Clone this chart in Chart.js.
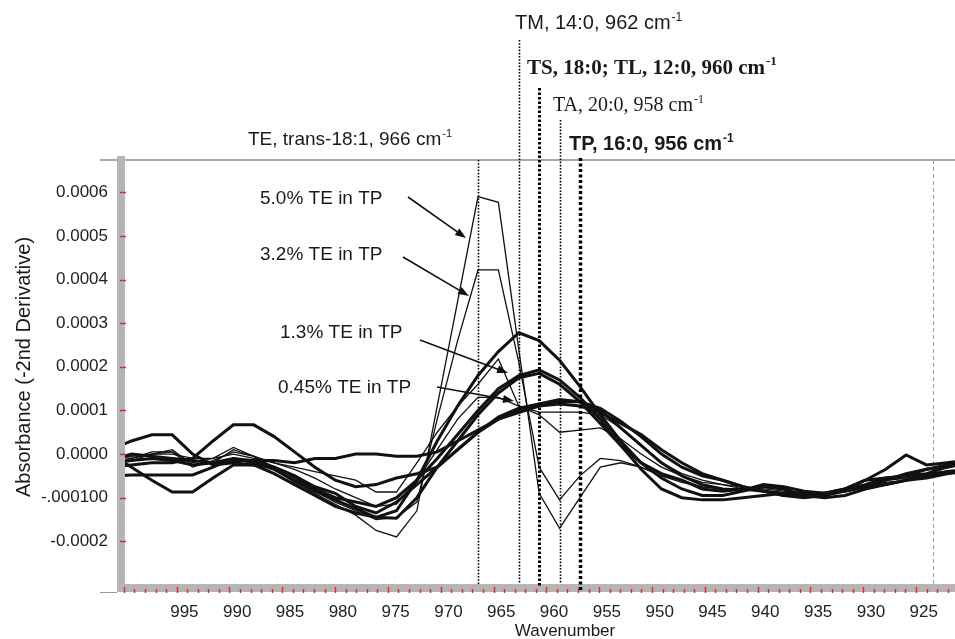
<!DOCTYPE html>
<html>
<head>
<meta charset="utf-8">
<script src="https://cdn.jsdelivr.net/npm/chart.js@4.4.0/dist/chart.umd.min.js"></script>
<style>
  html, body { margin: 0; padding: 0; background: #fff; }
  #wrap { width: 955px; height: 639px; position: relative; }
</style>
</head>
<body>
<div id="wrap"><canvas id="myChart"></canvas></div>
<script>
// sampled wavenumbers (cm-1), one spectrum point every ~1.93 cm-1
var wavenumbers = [1001.94, 1000.01, 998.08, 996.15, 994.22, 992.29, 990.36, 988.43, 986.5, 984.57,
  982.64, 980.71, 978.78, 976.85, 974.92, 972.99, 971.06, 969.13, 967.2, 965.27,
  963.34, 961.41, 959.48, 957.55, 955.62, 953.69, 951.76, 949.83, 947.9, 945.97,
  944.04, 942.11, 940.18, 938.25, 936.32, 934.39, 932.46, 930.53, 928.6, 926.67,
  924.74, 922.81, 920.88];

// mixtures of TE in TP (thin lines)
var te50 = [-0.1e-4, -0.15e-4, 0, 0.1e-4, -0.25e-4, -0.2e-4, 0.1e-4, -0.05e-4, -0.35e-4, -0.65e-4,
  -0.9e-4, -1.15e-4, -1.4e-4, -1.75e-4, -1.9e-4, -1.3e-4, 1.1e-4, 3.5e-4, 5.9e-4, 5.77e-4,
  2.4e-4, -0.9e-4, -1.7e-4, -1.0e-4, -0.3e-4, -0.2e-4, -0.3e-4, -0.5e-4, -0.65e-4, -0.75e-4,
  -0.8e-4, -0.8e-4, -0.85e-4, -0.9e-4, -0.9e-4, -0.95e-4, -0.85e-4, -0.75e-4, -0.65e-4, -0.6e-4,
  -0.5e-4, -0.45e-4, -0.4e-4];
var te32 = [-0.05e-4, -0.1e-4, 0.05e-4, 0.05e-4, -0.2e-4, -0.1e-4, 0.15e-4, -0.05e-4, -0.3e-4, -0.55e-4,
  -0.85e-4, -1.1e-4, -1.3e-4, -1.5e-4, -1.45e-4, -1.1e-4, 0.8e-4, 2.6e-4, 4.22e-4, 4.22e-4,
  2.1e-4, -0.3e-4, -1.05e-4, -0.5e-4, -0.1e-4, -0.15e-4, -0.3e-4, -0.5e-4, -0.6e-4, -0.75e-4,
  -0.8e-4, -0.8e-4, -0.85e-4, -0.9e-4, -0.85e-4, -0.9e-4, -0.8e-4, -0.7e-4, -0.6e-4, -0.55e-4,
  -0.45e-4, -0.4e-4, -0.35e-4];
var te13 = [-0.2e-4, -0.1e-4, 0, 0.05e-4, -0.3e-4, -0.15e-4, 0.05e-4, -0.05e-4, -0.2e-4, -0.3e-4,
  -0.4e-4, -0.5e-4, -0.6e-4, -0.87e-4, -0.87e-4, -0.2e-4, 0.5e-4, 1.1e-4, 1.6e-4, 2.18e-4,
  1.1e-4, 0.9e-4, 0.5e-4, 0.55e-4, 0.6e-4, 0.35e-4, 0, -0.3e-4, -0.5e-4, -0.65e-4,
  -0.7e-4, -0.75e-4, -0.8e-4, -0.85e-4, -0.9e-4, -0.9e-4, -0.85e-4, -0.7e-4, -0.6e-4, -0.5e-4,
  -0.45e-4, -0.4e-4, -0.35e-4];
var te045 = [-0.1e-4, -0.05e-4, 0, 0, -0.1e-4, -0.1e-4, 0, -0.1e-4, -0.2e-4, -0.35e-4,
  -0.55e-4, -0.8e-4, -1.0e-4, -1.2e-4, -1.15e-4, -0.6e-4, 0.1e-4, 0.8e-4, 1.3e-4, 1.3e-4,
  1.1e-4, 0.96e-4, 0.96e-4, 0.96e-4, 0.9e-4, 0.6e-4, 0.2e-4, -0.2e-4, -0.45e-4, -0.6e-4,
  -0.7e-4, -0.8e-4, -0.85e-4, -0.9e-4, -0.9e-4, -0.9e-4, -0.8e-4, -0.7e-4, -0.6e-4, -0.55e-4,
  -0.5e-4, -0.45e-4, -0.4e-4];

// pure saturated triglycerides (thick lines)
var tm = [0.1e-4, 0.3e-4, 0.44e-4, 0.44e-4, 0, -0.25e-4, -0.2e-4, -0.25e-4, -0.45e-4, -0.7e-4,
  -0.95e-4, -1.2e-4, -1.35e-4, -1.45e-4, -1.3e-4, -0.6e-4, 0.3e-4, 1.1e-4, 1.8e-4, 2.35e-4,
  2.78e-4, 2.6e-4, 2.15e-4, 1.55e-4, 0.9e-4, 0.3e-4, -0.2e-4, -0.55e-4, -0.8e-4, -0.95e-4,
  -0.95e-4, -0.85e-4, -0.75e-4, -0.8e-4, -0.95e-4, -1.0e-4, -0.95e-4, -0.8e-4, -0.7e-4, -0.6e-4,
  -0.55e-4, -0.45e-4, -0.4e-4];
var ts = [-0.5e-4, -0.48e-4, -0.48e-4, -0.48e-4, -0.48e-4, -0.3e-4, -0.1e-4, -0.15e-4, -0.3e-4, -0.5e-4,
  -0.8e-4, -1.0e-4, -1.1e-4, -1.2e-4, -1.0e-4, -0.6e-4, -0.1e-4, 0.45e-4, 1.0e-4, 1.5e-4,
  1.8e-4, 1.93e-4, 1.7e-4, 1.3e-4, 0.8e-4, 0.2e-4, -0.35e-4, -0.8e-4, -1.0e-4, -1.05e-4,
  -1.05e-4, -1.0e-4, -0.95e-4, -0.9e-4, -0.9e-4, -0.9e-4, -0.8e-4, -0.7e-4, -0.55e-4, -0.5e-4,
  -0.45e-4, -0.3e-4, -0.2e-4];
var tl = [-0.15e-4, 0, -0.05e-4, -0.1e-4, -0.15e-4, -0.2e-4, -0.1e-4, -0.2e-4, -0.35e-4, -0.6e-4,
  -0.85e-4, -1.05e-4, -1.25e-4, -1.45e-4, -1.47e-4, -1.0e-4, -0.3e-4, 0.3e-4, 0.9e-4, 1.4e-4,
  1.75e-4, 1.85e-4, 1.6e-4, 1.2e-4, 0.7e-4, 0.2e-4, -0.2e-4, -0.45e-4, -0.6e-4, -0.8e-4,
  -0.85e-4, -0.8e-4, -0.85e-4, -0.9e-4, -0.95e-4, -0.95e-4, -0.85e-4, -0.75e-4, -0.7e-4, -0.6e-4,
  -0.5e-4, -0.4e-4, -0.35e-4];
var ta = [0, -0.3e-4, -0.6e-4, -0.87e-4, -0.87e-4, -0.55e-4, -0.25e-4, -0.25e-4, -0.3e-4, -0.5e-4,
  -0.75e-4, -0.9e-4, -1.2e-4, -1.35e-4, -1.1e-4, -0.7e-4, -0.3e-4, 0.1e-4, 0.5e-4, 0.8e-4,
  1.0e-4, 1.15e-4, 1.25e-4, 1.2e-4, 1.0e-4, 0.6e-4, 0.2e-4, -0.2e-4, -0.5e-4, -0.7e-4,
  -0.8e-4, -0.83e-4, -0.7e-4, -0.75e-4, -0.85e-4, -0.9e-4, -0.8e-4, -0.6e-4, -0.55e-4, -0.5e-4,
  -0.35e-4, -0.3e-4, -0.2e-4];
var tp = [-0.3e-4, -0.25e-4, -0.2e-4, -0.2e-4, -0.1e-4, 0.3e-4, 0.67e-4, 0.67e-4, 0.4e-4, 0.05e-4,
  -0.3e-4, -0.6e-4, -0.75e-4, -0.7e-4, -0.55e-4, -0.45e-4, -0.3e-4, 0.1e-4, 0.5e-4, 0.85e-4,
  1.05e-4, 1.15e-4, 1.2e-4, 1.2e-4, 1.05e-4, 0.75e-4, 0.4e-4, 0, -0.3e-4, -0.5e-4,
  -0.6e-4, -0.75e-4, -0.85e-4, -0.95e-4, -0.95e-4, -0.9e-4, -0.85e-4, -0.75e-4, -0.6e-4, -0.45e-4,
  -0.35e-4, -0.25e-4, -0.15e-4];
var tpRepeat = [-0.2e-4, -0.15e-4, -0.1e-4, -0.15e-4, -0.25e-4, -0.2e-4, -0.15e-4, -0.15e-4, -0.15e-4, -0.2e-4,
  -0.1e-4, -0.1e-4, 0, 0, -0.05e-4, -0.05e-4, 0.05e-4, 0.3e-4, 0.55e-4, 0.8e-4,
  0.95e-4, 1.1e-4, 1.15e-4, 1.1e-4, 0.95e-4, 0.7e-4, 0.45e-4, 0.1e-4, -0.2e-4, -0.45e-4,
  -0.6e-4, -0.75e-4, -0.85e-4, -0.95e-4, -1.0e-4, -0.95e-4, -0.8e-4, -0.6e-4, -0.35e-4, -0.02e-4,
  -0.25e-4, -0.2e-4, -0.14e-4];

// axis ticks
var xTicks = [995, 990, 985, 980, 975, 970, 965, 960, 955, 950, 945, 940, 935, 930, 925];
var yTicks = [-0.0002, -0.0001, 0, 0.0001, 0.0002, 0.0003, 0.0004, 0.0005, 0.0006];
var yTickLabels = ["-0.0002", "-.000100", "0.0000", "0.0001", "0.0002", "0.0003", "0.0004", "0.0005", "0.0006"];

// dotted marker lines at the band positions
var markerLines = [
  { x: 967.2, top: 160, bottom: 584, width: 1.6, dash: [1.6, 1.6] },
  { x: 963.34, top: 40, bottom: 584, width: 1.6, dash: [1.6, 1.6] },
  { x: 961.41, top: 88, bottom: 586, width: 3, dash: [2.5, 2] },
  { x: 959.48, top: 120, bottom: 584, width: 1.6, dash: [1.6, 1.6] },
  { x: 957.55, top: 158, bottom: 592, width: 3.5, dash: [3, 2.5] }
];

var bandLabels = [
  { text: "TM, 14:0, 962 cm", x: 515, y: 29, font: "20px 'Liberation Sans'" },
  { text: "TS, 18:0; TL, 12:0, 960 cm", x: 527, y: 74, font: "bold 21px 'Liberation Serif'" },
  { text: "TA, 20:0, 958 cm", x: 553, y: 111, font: "20px 'Liberation Serif'" },
  { text: "TE, trans-18:1, 966 cm", x: 248, y: 145, font: "19px 'Liberation Sans'" },
  { text: "TP, 16:0, 956 cm", x: 569, y: 150, font: "bold 20px 'Liberation Sans'" }
];

var mixLabels = [
  { text: "5.0% TE in TP", x: 260, y: 204, arrow: [408, 197, 466, 238] },
  { text: "3.2% TE in TP", x: 260, y: 260, arrow: [403, 257, 469, 296] },
  { text: "1.3% TE in TP", x: 280, y: 338, arrow: [420, 340, 508, 373] },
  { text: "0.45% TE in TP", x: 278, y: 393, arrow: [437, 387, 514, 401] }
];

function toPoints(vals) {
  return wavenumbers.map(function (w, i) { return { x: w, y: vals[i] }; });
}

function line(label, vals, w) {
  return {
    label: label,
    data: toPoints(vals),
    borderColor: "#111",
    borderWidth: w,
    pointRadius: 0,
    tension: 0,
    fill: false
  };
}

function drawArrow(ctx, x1, y1, x2, y2) {
  var a = Math.atan2(y2 - y1, x2 - x1);
  ctx.beginPath();
  ctx.moveTo(x1, y1);
  ctx.lineTo(x2 - 8 * Math.cos(a), y2 - 8 * Math.sin(a));
  ctx.stroke();
  ctx.beginPath();
  ctx.moveTo(x2, y2);
  ctx.lineTo(x2 - 11 * Math.cos(a) + 4 * Math.sin(a), y2 - 11 * Math.sin(a) - 4 * Math.cos(a));
  ctx.lineTo(x2 - 11 * Math.cos(a) - 4 * Math.sin(a), y2 - 11 * Math.sin(a) + 4 * Math.cos(a));
  ctx.closePath();
  ctx.fill();
}

var decor = {
  id: "decor",
  beforeDatasetsDraw: function (chart) {
    var ctx = chart.ctx, xs = chart.scales.x, area = chart.chartArea;
    ctx.save();
    // top frame line
    ctx.strokeStyle = "#8c8c8c";
    ctx.lineWidth = 1.5;
    ctx.beginPath();
    ctx.moveTo(100, area.top);
    ctx.lineTo(area.right, area.top);
    ctx.stroke();
    // right frame, dashed
    var rx = Math.round(xs.getPixelForValue(924.1)) + 0.5;
    ctx.strokeStyle = "#a0a0a0";
    ctx.lineWidth = 1;
    ctx.setLineDash([4, 3]);
    ctx.beginPath();
    ctx.moveTo(rx, area.top);
    ctx.lineTo(rx, area.bottom);
    ctx.stroke();
    ctx.setLineDash([]);
    // little stub left of the x axis
    ctx.strokeStyle = "#9a9a9a";
    ctx.beginPath();
    ctx.moveTo(100, area.bottom + 4.5);
    ctx.lineTo(area.left - 4, area.bottom + 4.5);
    ctx.stroke();
    ctx.restore();
  },
  afterDraw: function (chart) {
    var ctx = chart.ctx, xs = chart.scales.x, ys = chart.scales.y, area = chart.chartArea;
    ctx.save();

    // red tick marks on the grey axis bars
    ctx.strokeStyle = "#e8262a";
    ctx.lineWidth = 1.5;
    yTicks.forEach(function (v) {
      var py = Math.round(ys.getPixelForValue(v)) + 0.5;
      ctx.beginPath();
      ctx.moveTo(area.left - 1, py);
      ctx.lineTo(area.left + 5, py);
      ctx.stroke();
    });
    for (var w = 922; w <= 1000; w++) {
      var px = Math.round(xs.getPixelForValue(w + 0.73)) + 0.5;
      var major = (w % 5 === 0);
      ctx.beginPath();
      ctx.moveTo(px, major ? area.bottom - 1 : area.bottom + 1);
      ctx.lineTo(px, area.bottom + 5);
      ctx.stroke();
    }

    // dotted band lines
    ctx.strokeStyle = "#000";
    markerLines.forEach(function (m) {
      var mx = Math.round(xs.getPixelForValue(m.x)) + 0.5;
      ctx.lineWidth = m.width;
      ctx.setLineDash(m.dash);
      ctx.beginPath();
      ctx.moveTo(mx, m.top);
      ctx.lineTo(mx, m.bottom);
      ctx.stroke();
    });
    ctx.setLineDash([]);

    // band labels with superscript -1
    ctx.fillStyle = "#1a1a1a";
    ctx.textBaseline = "alphabetic";
    ctx.textAlign = "left";
    bandLabels.forEach(function (b) {
      ctx.font = b.font;
      ctx.fillText(b.text, b.x, b.y);
      var tw = ctx.measureText(b.text).width;
      var size = parseFloat(b.font.match(/(\d+)px/)[1]);
      ctx.font = b.font.replace(/\d+px/, Math.round(size * 0.6) + "px");
      ctx.fillText("-1", b.x + tw + 1, b.y - size * 0.42);
    });

    // mixture labels and arrows
    ctx.font = "19px 'Liberation Sans'";
    ctx.strokeStyle = "#111";
    ctx.lineWidth = 1.6;
    mixLabels.forEach(function (m) {
      ctx.fillStyle = "#1a1a1a";
      ctx.fillText(m.text, m.x, m.y);
      ctx.fillStyle = "#111";
      drawArrow(ctx, m.arrow[0], m.arrow[1], m.arrow[2], m.arrow[3]);
    });

    // axis titles
    ctx.fillStyle = "#1a1a1a";
    ctx.font = "17px 'Liberation Sans'";
    ctx.textAlign = "center";
    ctx.textBaseline = "middle";
    ctx.fillText("Wavenumber", 565, 631);
    ctx.translate(24, 367);
    ctx.rotate(-Math.PI / 2);
    ctx.font = "20px 'Liberation Sans'";
    ctx.fillText("Absorbance (-2nd Derivative)", 0, 0);
    ctx.restore();
  }
};

var ctx = document.getElementById("myChart").getContext("2d");

var myChart = new Chart(ctx, {
  type: "line",
  data: {
    datasets: [
      line("5.0% TE in TP", te50, 1.3),
      line("3.2% TE in TP", te32, 1.3),
      line("1.3% TE in TP", te13, 1.3),
      line("0.45% TE in TP", te045, 1.3),
      line("TM", tm, 3),
      line("TS", ts, 3),
      line("TL", tl, 3),
      line("TA", ta, 3),
      line("TP", tp, 3),
      line("TP repeat", tpRepeat, 3)
    ]
  },
  options: {
    responsive: true,
    maintainAspectRatio: false,
    animation: false,
    devicePixelRatio: 1,
    layout: { padding: { top: 160, left: 0, right: 0, bottom: 0 } },
    plugins: { legend: { display: false }, tooltip: { enabled: false } },
    scales: {
      x: {
        type: "linear",
        reverse: true,
        min: 922.04,
        max: 1001.0,
        afterFit: function (scale) { scale.height = 51; },
        afterBuildTicks: function (axis) {
          axis.ticks = xTicks.map(function (v) { return { value: v }; });
        },
        ticks: {
          color: "#222",
          padding: 14,
          maxRotation: 0,
          autoSkip: false,
          font: { family: "'Liberation Sans'", size: 17 },
          callback: function (v) { return String(v); }
        },
        grid: { drawOnChartArea: false, drawTicks: false },
        border: { display: true, color: "#b5b5b5", width: 8, z: 1 }
      },
      y: {
        type: "linear",
        min: -0.000307,
        max: 0.000674,
        afterFit: function (scale) { scale.width = 121; },
        afterBuildTicks: function (axis) {
          axis.ticks = yTicks.map(function (v) { return { value: v }; });
        },
        ticks: {
          color: "#222",
          padding: 13,
          autoSkip: false,
          font: { family: "'Liberation Sans'", size: 17 },
          callback: function (v, i) { return yTickLabels[i]; }
        },
        grid: { drawOnChartArea: false, drawTicks: false },
        border: { display: true, color: "#b5b5b5", width: 8, z: 1 }
      }
    }
  },
  plugins: [decor]
});
</script>
</body>
</html>
